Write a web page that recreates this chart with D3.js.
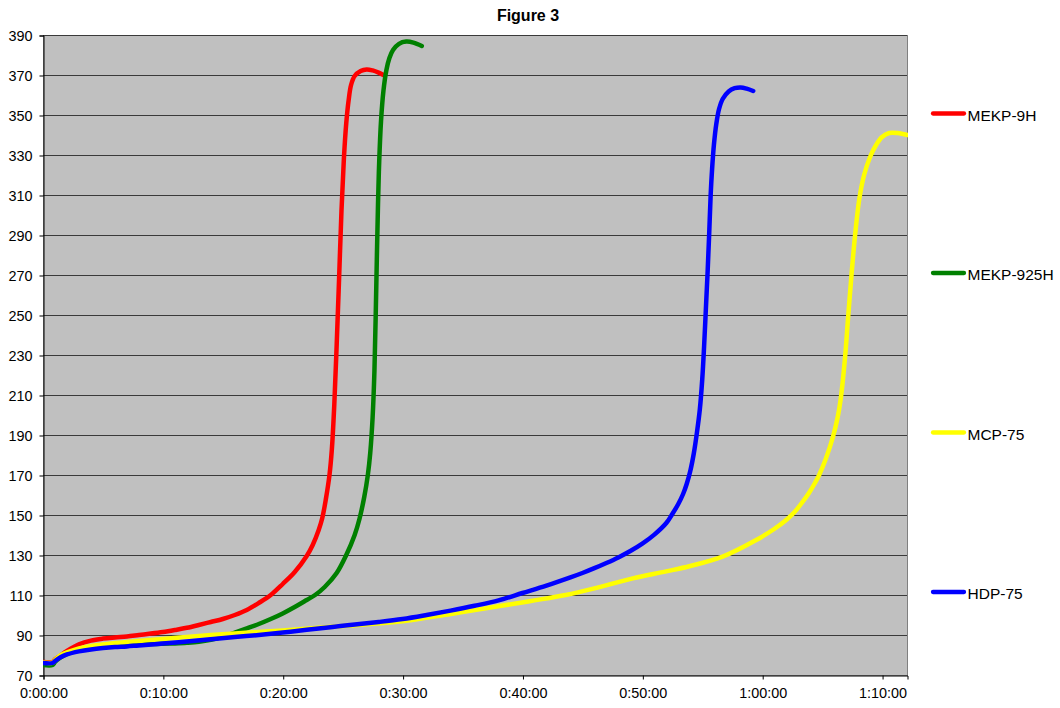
<!DOCTYPE html>
<html>
<head>
<meta charset="utf-8">
<script src="https://cdn.jsdelivr.net/npm/d3@7"></script>
<style>
  html, body { margin: 0; padding: 0; background: #fff; }
  svg { display: block; font-family: "Liberation Sans", Arial, sans-serif; }
</style>
</head>
<body>
<svg id="chart" width="1060" height="708"></svg>
<script>
// Elapsed time in minutes, temperature readings per resin/catalyst system
const seriesNames = ["MEKP-9H", "MEKP-925H", "MCP-75", "HDP-75"];
const seriesColors = ["#FF0000", "#008000", "#FFFF00", "#0000FF"];

const mekp9hTime = [0, 0.8, 1.0, 1.4, 2, 3, 4, 5, 6, 7, 8, 9, 10, 11, 12, 13, 14, 15, 16, 17, 18, 19, 20, 21, 22, 22.5, 23, 23.3, 23.6, 23.9, 24.1, 24.3, 24.5, 24.7, 24.9, 25.1, 25.3, 25.5, 25.7, 26.0, 26.5, 27.0, 27.5, 28.0, 28.4];
const mekp9hTemp = [76.5, 76.5, 77.8, 79.5, 82, 85.3, 87.2, 88.2, 88.8, 89.3, 90, 90.7, 91.5, 92.5, 93.6, 95, 96.5, 98, 100, 102.5, 106, 110, 115.5, 121.5, 129.5, 135, 142.5, 148.5, 158, 170, 183, 205, 235, 268, 302, 328, 346, 357.5, 365, 369.5, 372, 372.8, 372.3, 371.2, 370];

const mekp925hTime = [0, 0.8, 1.0, 1.4, 2, 3, 4, 5, 6, 7, 8, 9, 10, 11, 12, 13, 14, 15, 16, 17, 18, 19, 20, 21, 22, 22.7, 23.5, 24.5, 25.3, 26, 26.4, 26.8, 27.1, 27.3, 27.5, 27.65, 27.75, 27.85, 27.95, 28.05, 28.2, 28.4, 28.65, 28.9, 29.2, 29.7, 30.3, 30.9, 31.6];
const mekp925hTemp = [75, 75, 76.5, 78.5, 80.5, 82.5, 83.5, 84.2, 84.7, 85, 85.3, 85.5, 85.6, 85.8, 86.1, 86.6, 87.6, 89.2, 91.2, 93.3, 95.5, 98, 100.8, 104, 107.5, 110, 114, 121, 130, 140, 148, 159, 170, 181, 199, 222, 248, 278, 306, 327, 347, 362, 372.5, 378.5, 382.5, 385.6, 386.7, 386.2, 384.5];

const mcp75Time = [0, 0.8, 1.0, 1.5, 2, 3, 4, 5, 7, 10, 13, 16, 20, 25, 29.75, 34, 38.1, 41, 43.6, 46, 49.2, 52, 54, 56.7, 59.5, 61, 62, 62.7, 63.3, 63.9, 64.4, 64.75, 65.3, 65.9, 66.3, 66.55, 66.9, 67.17, 67.45, 67.75, 68.1, 68.5, 69, 69.5, 70, 70.6, 71.3, 72.1];
const mcp75Temp = [76.2, 76.2, 77.5, 80, 81.3, 83.3, 84.5, 85.3, 86.5, 88, 89.5, 90.8, 92.3, 94.5, 96.7, 100.5, 104.5, 107.3, 110, 113.3, 118.3, 121.8, 124.5, 129.2, 137.5, 143, 147.5, 151.5, 156, 161, 166, 170, 178, 189, 199, 208, 228, 249, 270, 290, 308, 320, 329, 335, 339, 341, 341, 340];

const hdp75Time = [0, 0.8, 1.0, 1.5, 2, 3, 4, 5, 6, 7, 8, 10, 12, 14, 16, 18, 20, 22, 25, 28, 30, 32, 34, 36, 38, 40, 42, 44, 45, 46, 47, 48, 49, 50, 51, 52, 52.5, 53, 53.4, 53.7, 54.0, 54.3, 54.55, 54.8, 55.0, 55.15, 55.3, 55.45, 55.58, 55.7, 55.82, 55.97, 56.17, 56.4, 56.7, 57.2, 57.7, 58.2, 58.7, 59.25];
const hdp75Temp = [76, 76, 77, 79, 80.3, 81.8, 82.8, 83.5, 84, 84.3, 84.8, 85.7, 86.8, 87.9, 89, 90, 91.2, 92.6, 94.6, 96.5, 98, 100, 102.2, 104.6, 107.3, 111, 114.7, 118.8, 121, 123.4, 126, 128.8, 132, 135.7, 140.2, 146, 150.5, 155.5, 160.5, 165.5, 172, 181, 191, 203, 218, 234, 253, 272, 291, 310, 323, 335, 345.5, 353, 358, 361.8, 363.4, 363.8, 363.2, 362];

const yTicks = [70, 90, 110, 130, 150, 170, 190, 210, 230, 250, 270, 290, 310, 330, 350, 370, 390];
const xTicks = [0, 10, 20, 30, 40, 50, 60, 70];

const series = [
  { name: seriesNames[0], color: seriesColors[0], t: mekp9hTime, v: mekp9hTemp },
  { name: seriesNames[1], color: seriesColors[1], t: mekp925hTime, v: mekp925hTemp },
  { name: seriesNames[2], color: seriesColors[2], t: mcp75Time, v: mcp75Temp },
  { name: seriesNames[3], color: seriesColors[3], t: hdp75Time, v: hdp75Temp }
];

const svg = d3.select("#chart");
const plot = { left: 43, top: 35, right: 907, bottom: 675 };

const x = d3.scaleLinear().domain([0, 72.08]).range([plot.left, plot.right]);
const y = d3.scaleLinear().domain([70, 390]).range([plot.bottom, plot.top]);

// h:mm:ss labels from minutes
const fmtTime = m => {
  const s = Math.round(m * 60);
  const h = Math.floor(s / 3600);
  const mm = Math.floor((s % 3600) / 60);
  const ss = s % 60;
  return h + ":" + String(mm).padStart(2, "0") + ":" + String(ss).padStart(2, "0");
};

// Title
svg.append("text")
  .attr("x", 528).attr("y", 21)
  .attr("text-anchor", "middle")
  .attr("font-size", 16).attr("font-weight", "bold")
  .attr("fill", "#000")
  .text("Figure 3");

// Plot background
svg.append("rect")
  .attr("x", plot.left + 0.5).attr("y", plot.top + 0.5)
  .attr("width", plot.right - plot.left).attr("height", plot.bottom - plot.top)
  .attr("fill", "#C0C0C0")
  .attr("stroke", "#808080").attr("stroke-width", 1);

// Horizontal gridlines
svg.append("g")
  .selectAll("line")
  .data(yTicks.filter(d => d > 70))
  .join("line")
  .attr("x1", plot.left).attr("x2", plot.right)
  .attr("y1", d => Math.round(y(d)) + 0.5).attr("y2", d => Math.round(y(d)) + 0.5)
  .attr("stroke", "#3a3a3a").attr("stroke-width", 1);

// Axes
const yAxis = d3.axisLeft(y).tickValues(yTicks).tickSize(4).tickPadding(7).tickFormat(d3.format("d"));
const gy = svg.append("g").attr("transform", `translate(${plot.left + 0.5},0.5)`).call(yAxis);
gy.select(".domain").attr("stroke", "#000");
gy.selectAll("text").attr("font-size", 14.4).attr("fill", "#000").attr("font-family", "Liberation Sans, Arial, sans-serif");

const xAxis = d3.axisBottom(x).tickValues(xTicks).tickSize(4).tickPadding(8.5).tickFormat(fmtTime);
const gx = svg.append("g").attr("transform", `translate(0.5,${plot.bottom + 0.5})`).call(xAxis);
gx.select(".domain").attr("stroke", "#000");
gx.selectAll("text").attr("font-size", 14.4).attr("fill", "#000").attr("font-family", "Liberation Sans, Arial, sans-serif");

// Series lines
const line = d3.line()
  .x(d => x(d[0]))
  .y(d => y(d[1]))
  .curve(d3.curveCatmullRom.alpha(0.5));

svg.append("clipPath").attr("id", "plotClip")
  .append("rect")
  .attr("x", plot.left).attr("y", plot.top - 10)
  .attr("width", plot.right - plot.left + 1).attr("height", plot.bottom - plot.top + 10);

svg.append("g")
  .attr("clip-path", "url(#plotClip)")
  .selectAll("path")
  .data(series)
  .join("path")
  .attr("d", s => line(s.t.map((t, i) => [t, s.v[i]])))
  .attr("fill", "none")
  .attr("stroke", s => s.color)
  .attr("stroke-width", 4.5)
  .attr("stroke-linejoin", "round")
  .attr("stroke-linecap", "round");

// Legend
const legendY = [113.5, 273, 432.5, 592];
const legend = svg.append("g")
  .selectAll("g")
  .data(series)
  .join("g")
  .attr("transform", (s, i) => `translate(933,${legendY[i]})`);

legend.append("line")
  .attr("x1", 0).attr("x2", 31)
  .attr("y1", 0).attr("y2", 0)
  .attr("stroke", s => s.color)
  .attr("stroke-width", 4.3)
  .attr("stroke-linecap", "round");

legend.append("text")
  .attr("x", 34.5).attr("y", 7)
  .attr("font-size", 15.5)
  .attr("fill", "#000")
  .text(s => s.name);
</script>
</body>
</html>
